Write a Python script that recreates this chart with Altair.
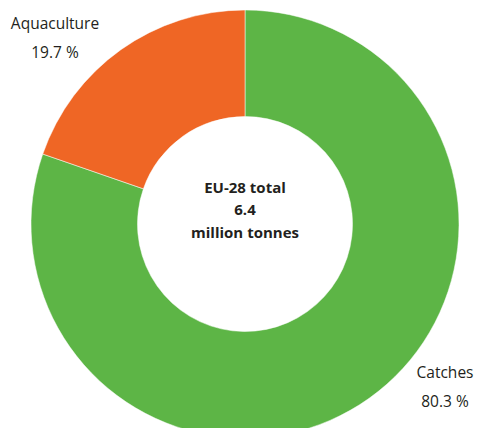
import altair as alt
import pandas as pd

categories = ["Catches", "Aquaculture"]
shares = [80.3, 19.7]
share_labels = ["80.3 %", "19.7 %"]
colors = ["#5db546", "#ef6625"]
center_lines = ["EU-28 total", "6.4", "million tonnes"]

df = pd.DataFrame({"category": categories, "share": shares, "order": [0, 1]})

CX, CY = 237, 216
R_OUT, R_IN = 214, 107.5

arc = alt.Chart(df).mark_arc(outerRadius=R_OUT, innerRadius=R_IN, stroke="#ffffff", strokeWidth=0.5).encode(
    theta=alt.Theta("share:Q", stack=True),
    order=alt.Order("order:Q"),
    color=alt.Color("category:N", scale=alt.Scale(domain=categories, range=colors), legend=None),
    x=alt.value(CX),
    y=alt.value(CY),
)

lab_df = pd.DataFrame({
    "name": categories,
    "pct": share_labels,
    "lx": [437, 47],
    "ly": [365, 16],
})

FS = 15.5
name_text = alt.Chart(lab_df).mark_text(font="Open Sans", fontSize=FS, color="#231f20", baseline="middle", align="center").encode(
    text="name:N", x=alt.X("lx:Q", scale=None), y=alt.Y("ly:Q", scale=None)
)
pct_text = alt.Chart(lab_df).mark_text(font="Open Sans", fontSize=FS, color="#231f20", baseline="middle", align="center", dy=29).encode(
    text="pct:N", x=alt.X("lx:Q", scale=None), y=alt.Y("ly:Q", scale=None)
)

center_df = pd.DataFrame({"line": center_lines, "cy": [CY - 36, CY - 14, CY + 9]})
center_text = alt.Chart(center_df).mark_text(font="Open Sans", fontWeight="bold", fontSize=15, color="#231f20", baseline="middle", align="center").encode(
    text="line:N", x=alt.value(CX), y=alt.Y("cy:Q", scale=None)
)

chart = alt.layer(arc, name_text, pct_text, center_text).properties(
    width=466, height=420, autosize="none", padding=0
).configure_view(stroke=None)

chart.save("out.html", embed_options={"renderer": "svg", "actions": False})
